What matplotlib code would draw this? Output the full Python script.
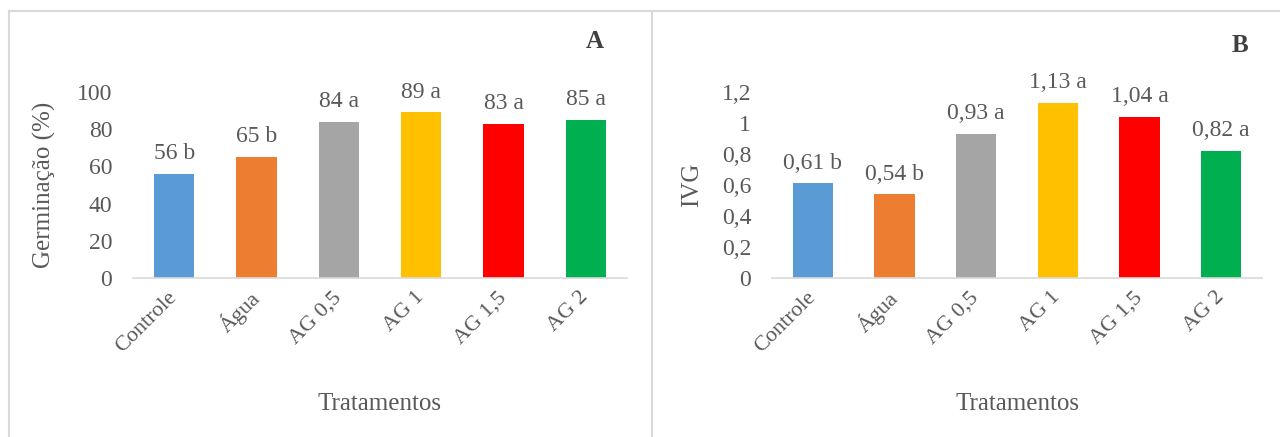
import matplotlib.pyplot as plt
from matplotlib.lines import Line2D
import matplotlib.transforms as mtransforms

# Data
tratamentos = ["Controle", "Água", "AG 0,5", "AG 1", "AG 1,5", "AG 2"]
germinacao = [56, 65, 84, 89, 83, 85]
germ_letras = ["b", "b", "a", "a", "a", "a"]
ivg = [0.61, 0.54, 0.93, 1.13, 1.04, 0.82]
ivg_letras = ["b", "b", "a", "a", "a", "a"]

germ_ticks = [0, 20, 40, 60, 80, 100]
ivg_ticks = [0, 0.2, 0.4, 0.6, 0.8, 1.0, 1.2]
ivg_ticklabels = ["0", "0,2", "0,4", "0,6", "0,8", "1", "1,2"]

cores = ["#5B9BD5", "#ED7D31", "#A5A5A5", "#FFC000", "#FF0000", "#00B050"]
txt = "#595959"

plt.rcParams['font.family'] = ['Liberation Serif', 'DejaVu Serif']
fs = 17

fig = plt.figure(figsize=(12.8, 4.37), dpi=100)

# pixel helpers
W, H = 1280, 437
def fx(px):
    return px / W
def fy(py):
    return 1 - py / H

# panel frame (grey lines like the pasted Excel charts)
frame = "#D9D9D9"
fig.add_artist(Line2D([fx(9), fx(9)], [fy(11), 0], color=frame, lw=1.5))
fig.add_artist(Line2D([fx(9), 1], [fy(11), fy(11)], color=frame, lw=1.5))
fig.add_artist(Line2D([fx(652), fx(652)], [fy(11), 0], color=frame, lw=1.5))


def painel(ax, vals, letras, fmt, ticks, ticklabels, ylab, ymax, ylab_x):
    x = range(len(tratamentos))
    ax.bar(x, vals, width=0.49, color=cores, zorder=2)
    for xi, v, l in zip(x, vals, letras):
        ax.annotate(fmt(v) + " " + l, (xi, v), xytext=(0, 7), textcoords="offset points",
                    ha="center", va="bottom", fontsize=fs, color=txt)
    ax.set_xlim(-0.5, len(tratamentos) - 0.5)
    ax.set_ylim(0, ymax)
    ax.set_yticks(ticks)
    ax.set_yticklabels(ticklabels)
    ax.set_xticks(list(x))
    ax.set_xticklabels(tratamentos, rotation=45, ha="right", va="center",
                       rotation_mode="anchor")
    shift = mtransforms.ScaledTranslation(6 / 100, 0, fig.dpi_scale_trans)
    for lab in ax.get_xticklabels():
        lab.set_transform(lab.get_transform() + shift)
    ax.tick_params(axis="y", length=0, labelsize=fs, colors=txt, pad=15)
    ax.tick_params(axis="x", length=0, labelsize=fs - 1, colors=txt, pad=12)
    for s in ["top", "right", "left"]:
        ax.spines[s].set_visible(False)
    ax.spines["bottom"].set_color(frame)
    ax.spines["bottom"].set_linewidth(1.2)
    ax.set_ylabel(ylab, fontsize=fs + 1, color=txt)
    ax.yaxis.set_label_coords(ylab_x, 0.5)
    ax.set_xlabel("Tratamentos", fontsize=fs + 1, color=txt)
    ax.xaxis.set_label_coords(0.5, -0.62)
    return ax


axA = fig.add_axes([fx(133), fy(278), fx(627) - fx(133), (278 - 92) / H])
painel(axA, germinacao, germ_letras, lambda v: "%d" % v, germ_ticks,
       [str(t) for t in germ_ticks], "Germinação (%)", 100, -0.156)

axB = fig.add_axes([fx(772), fy(278), fx(1262) - fx(772), (278 - 92) / H])
painel(axB, ivg, ivg_letras, lambda v: ("%.2f" % v).replace(".", ","), ivg_ticks,
       ivg_ticklabels, "IVG", 1.2, -0.14)

fig.text(fx(595), fy(41), "A", fontsize=fs + 1, fontweight="bold", color="#404040", ha="center", va="center")
fig.text(fx(1240), fy(45), "B", fontsize=fs + 1, fontweight="bold", color="#404040", ha="center", va="center")

fig.savefig("out.png", dpi=100)
